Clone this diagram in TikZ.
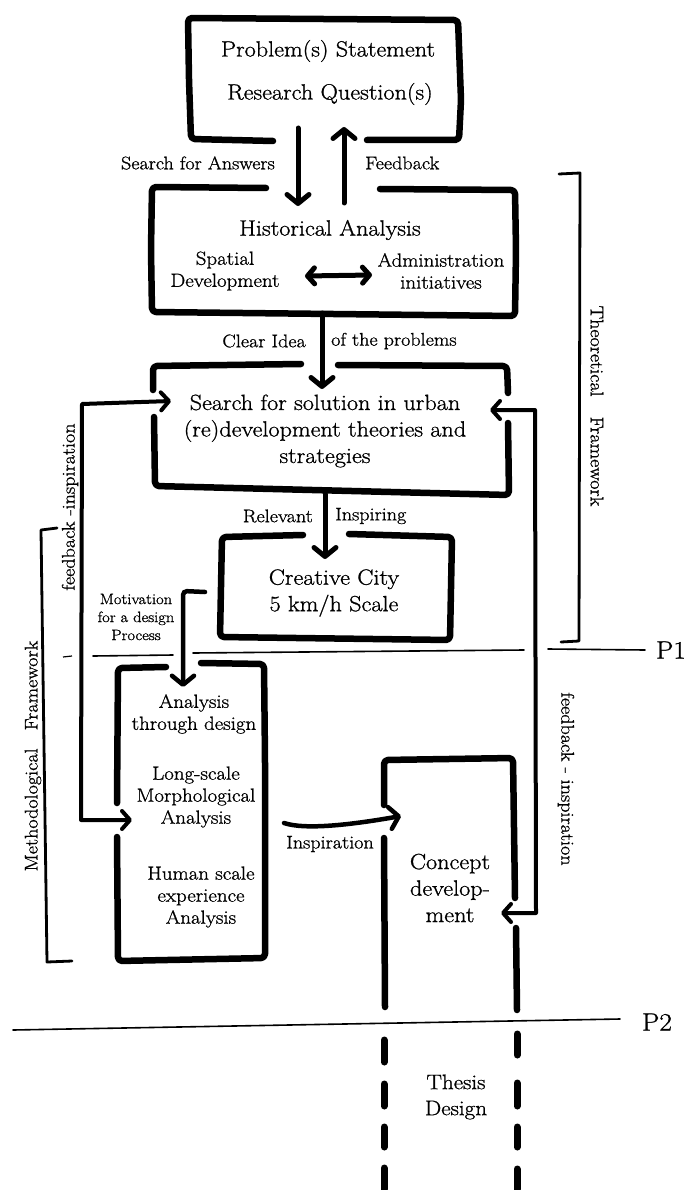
\documentclass[tikz,border=0pt]{standalone}
\usepackage{fontspec}
\setmainfont{Latin Modern Roman}[FakeStretch=1.1, FakeBold=1]
\usetikzlibrary{arrows.meta}
\tikzset{
  boxline/.style={line width=6.5pt, line cap=round, line join=round, rounded corners=4pt},
  arr/.style={line width=5pt, line cap=round, -{Straight Barb[length=9pt,width=22pt,round]}},
  dblarr/.style={line width=5pt, {Straight Barb[length=7pt,width=16pt,round]}-{Straight Barb[length=7pt,width=16pt,round]}},
  loopline/.style={line width=4pt, line join=round, {Straight Barb[length=8pt,width=18pt,round]}-{Straight Barb[length=8pt,width=18pt,round]}},
  bracket/.style={line width=2.8pt, line join=round, line cap=round},
  phase/.style={line width=1.6pt, line cap=round},
  dashseg/.style={line width=7pt, line cap=round},
  txt/.style={inner sep=0pt, align=center},
  big/.style={txt, font=\fontsize{22}{26.5}\selectfont},
  mid/.style={txt, font=\fontsize{19}{22}\selectfont},
  lab/.style={txt, font=\fontsize{18.3}{21}\selectfont},
  small/.style={txt, font=\fontsize{15}{18}\selectfont},
  plab/.style={txt, font=\fontsize{25}{30}\selectfont},
}
\begin{document}
\begin{tikzpicture}[x=1pt,y=-1pt]
\useasboundingbox (0,0) rectangle (684,1190);

% ---------- box outlines ----------
% Box 1
\draw[boxline] (273,141) -- (191,139) -- (189,80) -- (188,18) -- (458,20) -- (461,100) -- (459,140) -- (367,140);
% Box 2
\draw[boxline] (266,188) -- (152,187) -- (151,250) -- (152,312) -- (515,316) -- (516,250) -- (515,190) -- (380,189);
% Box 3
\draw[boxline] (153,390) -- (153,366) -- (301,364);
\draw[boxline] (338,365) -- (507,366) -- (508,393);
\draw[boxline] (154,417) -- (155,486) -- (509,495) -- (508,423);
% Box 4
\draw[boxline] (303,535) -- (222,537) -- (220,637) -- (450,640) -- (452,537) -- (349,534);
% Box 5
\draw[boxline] (166,667) -- (118,668) -- (117,803);
\draw[boxline] (117,837) -- (118,961) -- (265,958) -- (265,760) -- (264,664) -- (201,663);
% Box 6
\draw[boxline] (384,805) -- (384,760) -- (513,758) -- (515,898);
\draw[boxline] (384,838) -- (385,1007);
\draw[boxline] (516,928) -- (517,1010);

% ---------- texts ----------
\node[big] (ps) at (328,51) {Problem(s) Statement};
\node[big] (rq) at (330,94) {Research Question(s)};
\node[big] (ha) at (330,230) {Historical Analysis};
\node[mid] (sd) at (225,271) {Spatial\\Development};
\node[mid] (ai) at (441,271) {Administration\\initiatives};
\node[big] (ss) at (325,431) {Search for solution in urban\\(re)development theories and\\strategies};
\node[big] (cc) at (334,593) {Creative City\\5 km/h Scale};
\node[mid] (atd) at (194,714) {Analysis\\through design};
\node[mid] (lsm) at (196,797) {Long-scale\\Morphological\\Analysis};
\node[mid] (hse) at (201,897) {Human scale\\experience\\Analysis};
\node[big] (cd) at (450,888) {Concept\\develop-\\ment};
\node[txt, font=\fontsize{21}{26}\selectfont] (td) at (456,1097) {Thesis\\Design};

% ---------- connector end points ----------
\coordinate (a1s) at (298,128); \coordinate (a1e) at (298,206);
\coordinate (a2s) at (344,203); \coordinate (a2e) at (344,127);
\coordinate (d1) at (305,276);  \coordinate (d2) at (372,275);
\coordinate (a3s) at (322,313); \coordinate (a3e) at (322,389);
\coordinate (a4s) at (325,494); \coordinate (a4e) at (325,559);
\coordinate (ms) at (205,592);  \coordinate (me) at (183,687);
\coordinate (lt) at (171,401);  \coordinate (lb) at (132,820);
\coordinate (rt) at (490,410);  \coordinate (rb) at (501,913);
\coordinate (is) at (284,823);  \coordinate (ie) at (401,816);

% ---------- connectors ----------
\draw[arr] (a1s) -- (a1e);
\draw[arr] (a2s) -- (a2e);
\draw[dblarr] (d1) -- (d2);
\draw[arr] (a3s) -- (a3e);
\draw[arr] (a4s) -- (a4e);
\draw[arr, line width=4.5pt, rounded corners=4pt] (ms) -- (183,591) -- (me);
\draw[loopline] (lt) -- (82,404) -- (81,820) -- (lb);
\draw[loopline] (rt) -- (535,410) -- (536,913) -- (rb);
\draw[arr, line width=4.5pt] (is) .. controls (305,830) and (350,825) .. (ie);

% ---------- connector labels ----------
\node[lab, anchor=east] (sfa) at (275,163) {Search for Answers};
\node[lab, anchor=west] (fb) at (365,163) {Feedback};
\node[lab, anchor=east] (ci) at (306,341) {Clear Idea};
\node[lab, anchor=west] (otp) at (331,341) {of the problems};
\node[lab, anchor=east] (rel) at (313,516) {Relevant};
\node[lab, anchor=west] (insp) at (335,516) {Inspiring};
\node[small] (mot) at (136,617) {Motivation\\for a design\\Process};
\node[lab] (ins) at (330,844) {Inspiration};
\node[lab, rotate=90] (fil) at (70,507) {feedback -inspiration};
\node[lab, rotate=-90] (fir) at (566,779) {feedback - inspiration};

% ---------- brackets ----------
\draw[bracket] (559,174) -- (580,173) -- (579,641) -- (561,642);
\draw[bracket] (57,528) -- (41,530) -- (47,962) -- (72,961);
\node[lab, rotate=-90] (tf) at (597,406) {Theoretical\hspace{20pt}Framework};
\node[lab, rotate=90] (mf) at (33,756) {Methodological\hspace{18pt}Framework};
\draw[line width=1.2pt] (63,657) -- (72,656);

% ---------- phase lines ----------
\draw[phase] (93,656) -- (173,655);
\draw[phase] (193,653) -- (524,650);
\draw[phase] (548,649) -- (645,650);
\node[plab] (p1) at (671,650) {P1};
\draw[phase] (13,1030) -- (620,1019);
\node[plab] (p2) at (657,1022) {P2};

% ---------- dashed continuation ----------
\foreach \a/\b in {1040/1062,1084/1106,1127/1147,1168/1189}
  \draw[dashseg] (384,\a) -- (384,\b);
\foreach \a/\b in {1034/1055,1083/1106,1127/1147,1169/1189}
  \draw[dashseg] (517,\a) -- (517,\b);
\end{tikzpicture}
\end{document}
